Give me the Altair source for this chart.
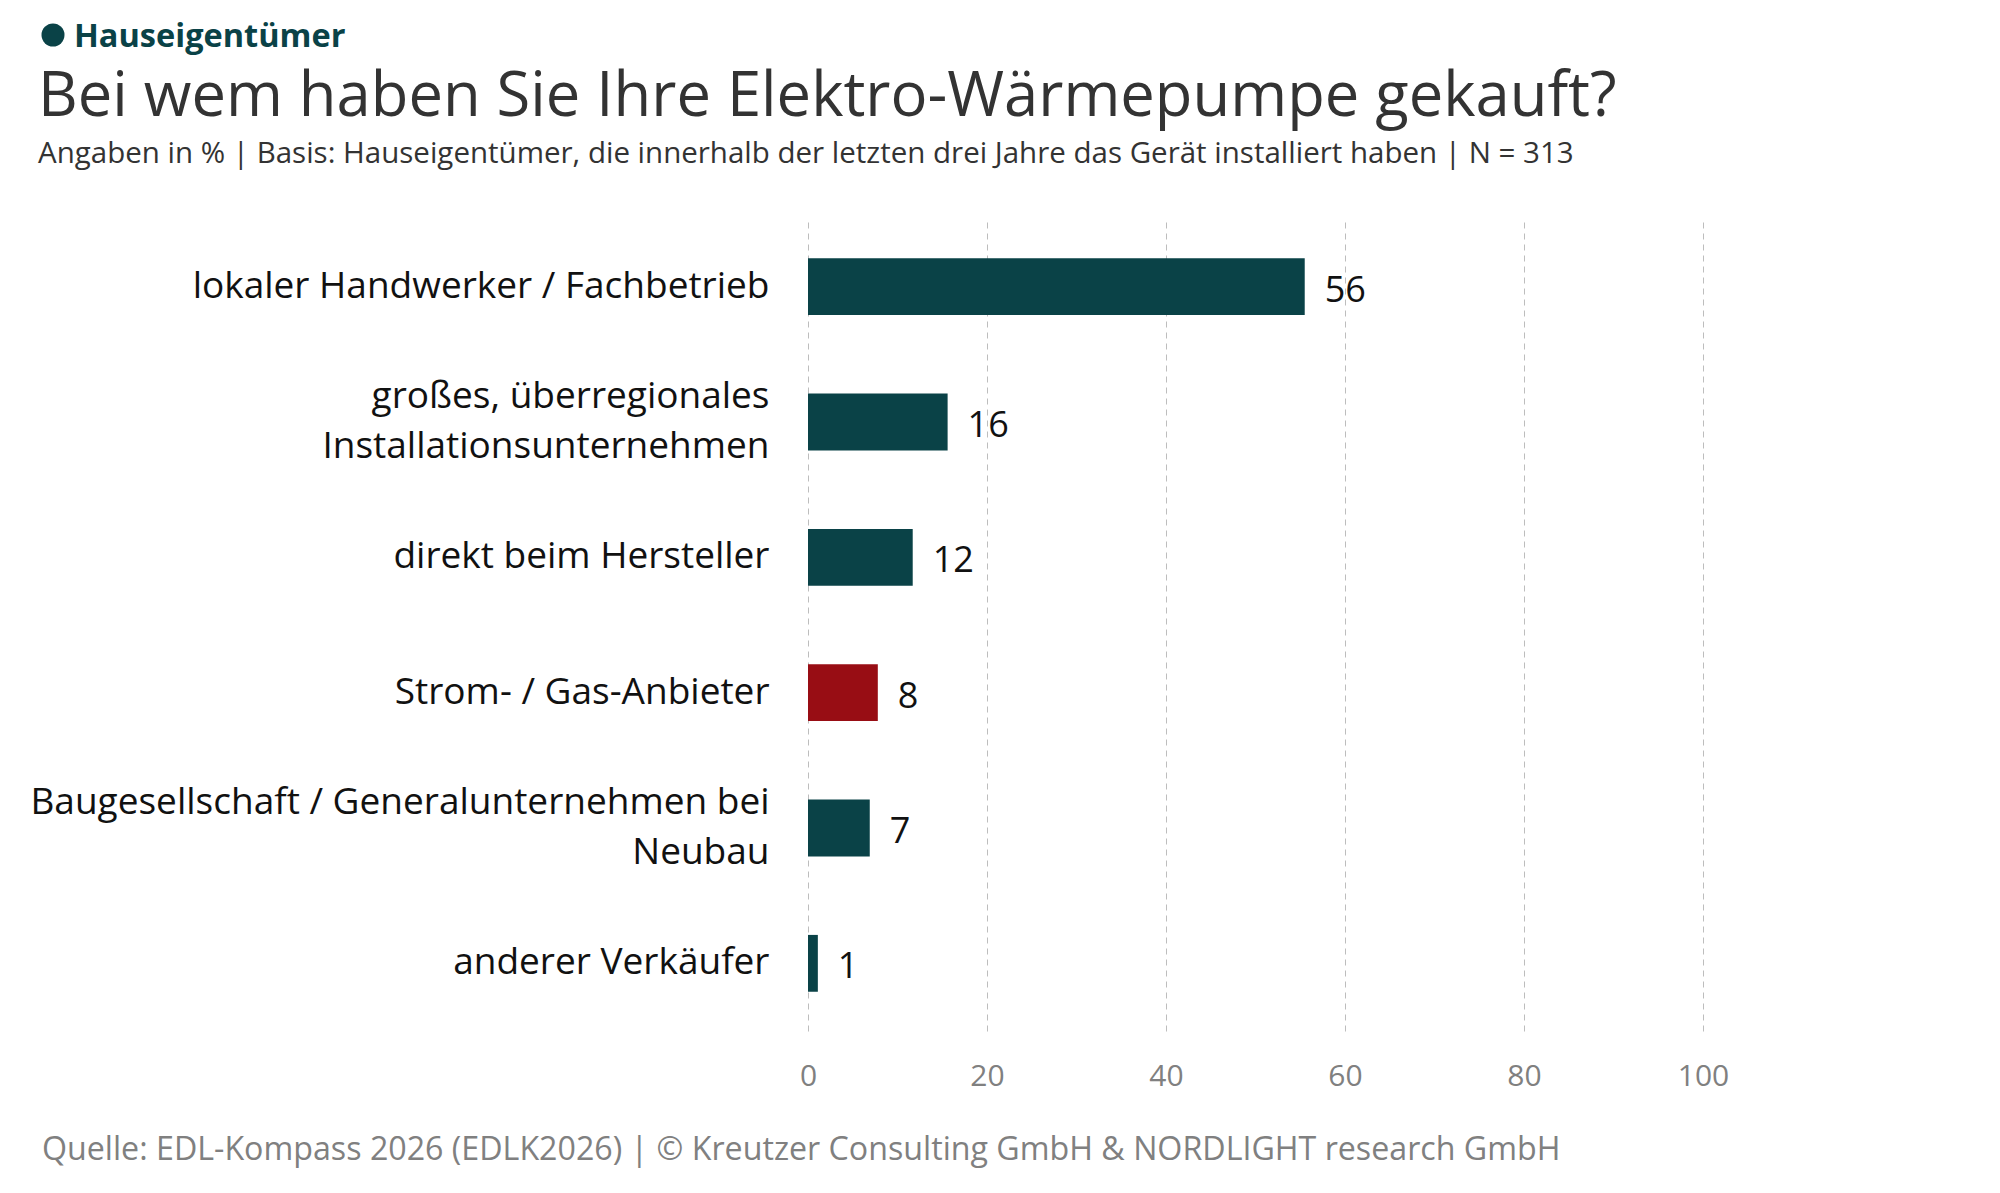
import altair as alt
import pandas as pd

# ---- data ----
categories = [
    "lokaler Handwerker / Fachbetrieb",
    "großes, überregionales|Installationsunternehmen",
    "direkt beim Hersteller",
    "Strom- / Gas-Anbieter",
    "Baugesellschaft / Generalunternehmen bei|Neubau",
    "anderer Verkäufer",
]
values = [55.5, 15.6, 11.7, 7.8, 6.9, 1.1]
highlight = [False, False, False, True, False, False]
x_ticks = [0, 20, 40, 60, 80, 100]

header = "Hauseigentümer"
title = "Bei wem haben Sie Ihre Elektro-Wärmepumpe gekauft?"
subtitle = ("Angaben in % | Basis: Hauseigentümer, die innerhalb der letzten drei Jahre "
            "das Gerät installiert haben | N = 313")
source = "Quelle: EDL-Kompass 2026 (EDLK2026) | © Kreutzer Consulting GmbH & NORDLIGHT research GmbH"

TEAL = "#0a4247"
RED = "#980d14"
FONT = "Open Sans"

df = pd.DataFrame({
    "kategorie": categories,
    "wert": values,
    "gruppe": ["Energieversorger" if h else "Andere" for h in highlight],
})

y_enc = alt.Y(
    "kategorie:N",
    sort=categories,
    scale=alt.Scale(paddingInner=0.58, paddingOuter=0.29),
    axis=alt.Axis(
        title=None,
        labelExpr="split(datum.label, '|')",
        labelFontSize=37,
        labelColor="#111111",
        labelLineHeight=50,
        labelPadding=39,
        labelLimit=900,
        labelOffset=alt.condition("indexof(datum.value, '|') >= 0", alt.value(-25), alt.value(0)),
        ticks=False,
        domain=False,
        grid=False,
    ),
)
x_enc = alt.X(
    "wert:Q",
    scale=alt.Scale(domain=[0, 100], nice=False),
    axis=alt.Axis(
        title=None,
        values=x_ticks,
        grid=True,
        gridDash=[6, 5],
        gridColor="#bdbdbd",
        gridWidth=1,
        domain=False,
        ticks=False,
        tickSize=0,
        labelFlush=False,
        labelPadding=30,
        labelFontSize=30,
        labelColor="#808080",
    ),
)

base = alt.Chart(df)

bars = base.mark_bar().encode(
    x=x_enc,
    y=y_enc,
    color=alt.Color(
        "gruppe:N",
        scale=alt.Scale(domain=["Andere", "Energieversorger"], range=[TEAL, RED]),
        legend=None,
    ),
)

labels = base.mark_text(
    align="left", baseline="middle", dx=20, dy=4, fontSize=36, color="#111111"
).encode(
    x="wert:Q",
    y=alt.Y("kategorie:N", sort=categories),
    text=alt.Text("wert:Q", format=".0f"),
)

def text_at(txt, x, y, **kw):
    return alt.Chart(pd.DataFrame({"t": [txt]})).mark_text(
        align="left", baseline="alphabetic", **kw
    ).encode(x=alt.value(x), y=alt.value(y), text="t:N")

dot = alt.Chart(pd.DataFrame({"t": [header]})).mark_point(
    shape="circle", filled=True, size=529, color=TEAL, opacity=1
).encode(x=alt.value(-755), y=alt.value(-184))

header_mark = text_at(header, -734, -172, fontSize=32.5, fontWeight="bold", color=TEAL)
title_mark = text_at(title, -770, -103, fontSize=61.5, color="#333333")
subtitle_mark = text_at(subtitle, -770, -56, fontSize=29.5, color="#333333")
source_mark = text_at(source, -766, 941, fontSize=32.2, color="#808080")

chart = (
    alt.layer(bars, labels, dot, header_mark, title_mark, subtitle_mark, source_mark)
    .properties(
        width=895,
        height=812,
        autosize=alt.AutoSizeParams(type="none"),
        padding={"left": 800, "top": 211, "right": 280, "bottom": 150},
    )
    .configure(font=FONT, background="white")
    .configure_view(stroke=None)
)

chart.save("out.html", embed_options={"renderer": "svg", "actions": False})
